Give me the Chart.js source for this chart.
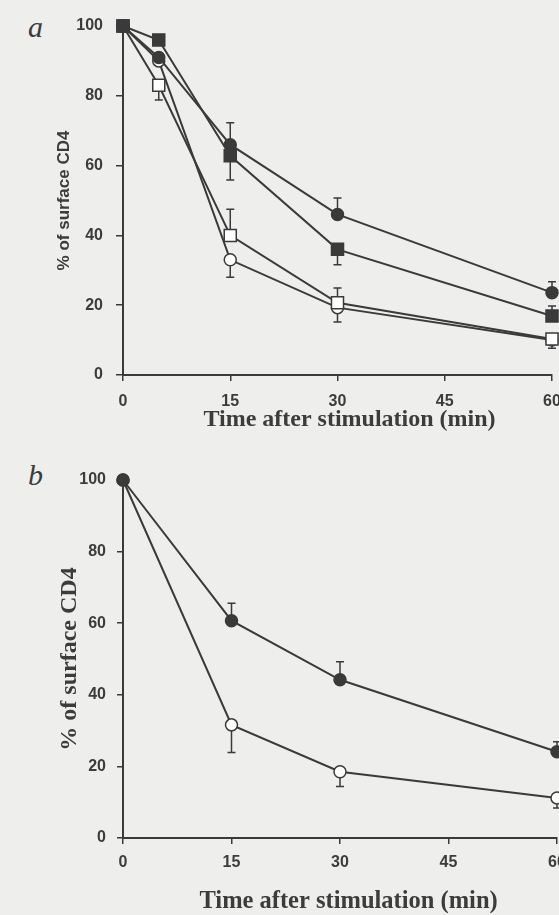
<!DOCTYPE html>
<html>
<head>
<meta charset="utf-8">
<script src="https://cdn.jsdelivr.net/npm/chart.js@4.4.1/dist/chart.umd.min.js"></script>
<style>
  html, body { margin: 0; padding: 0; background: #eeeeec; overflow: hidden; width: 559px; height: 915px; }
  canvas { position: absolute; left: 0; }
  #chartA { top: 0; }
  #chartB { top: 455px; }
  .panel { position: absolute; font-family: 'Liberation Serif', serif; font-style: italic; font-size: 30px; line-height: 1; color: #3c3c3c; }
</style>
</head>
<body>
<div class="panel" style="left:28px; top:12px">a</div>
<div class="panel" style="left:28px; top:460px">b</div>
<canvas id="chartA" width="600" height="450" style="width:600px;height:450px"></canvas>
<canvas id="chartB" width="600" height="470" style="width:600px;height:470px"></canvas>
<script>
// panel a: time points and % of surface CD4
const timesA = [0, 5, 15, 30, 60];
const filledSquareA = [100, 96, 62.8, 36, 16.9];
const filledCircleA = [100, 91, 66, 46, 23.6];
const openSquareA = [100, 83, 40, 20.7, 10.3];
const openCircleA = [100, 90, 33, 19.3, 10];
// error bar ends (one-sided whiskers)
const filledSquareAErr = [null, null, 55.9, 31.6, 19.8];
const filledCircleAErr = [null, null, 72.3, 50.7, 26.7];
const openSquareAErr = [null, 78.8, 47.5, 24.9, 7.7];
const openCircleAErr = [null, null, 28, 15.2, null];

// panel b
const timesB = [0, 15, 30, 60];
const filledCircleB = [100, 60.7, 44.2, 24.1];
const openCircleB = [100, 31.6, 18.5, 11.2];
const filledCircleBErr = [null, 65.6, 49.2, 26.9];
const openCircleBErr = [null, 23.9, 14.4, 8.4];

const xTicks = [0, 15, 30, 45, 60];
const yTicks = [0, 20, 40, 60, 80, 100];

const ink = '#3a3a3a';
const textInk = '#3c3c3c';

function toPoints(xs, ys) {
    return xs.map((x, i) => ({ x: x, y: ys[i] }));
}

function series(xs, ys, err, style, filled) {
    return {
        data: toPoints(xs, ys),
        errEnd: err,
        borderColor: ink,
        borderWidth: 2,
        pointStyle: style,
        pointRadius: style === 'rect' ? 8.5 : 6,
        pointBackgroundColor: filled ? ink : '#ffffff',
        pointBorderColor: ink,
        pointBorderWidth: 1.5,
        tension: 0,
        clip: false
    };
}

// one-sided error whiskers with caps
const errorBars = {
    id: 'errorBars',
    beforeDatasetsDraw(chart) {
        const ctx = chart.ctx;
        const yScale = chart.scales.y;
        chart.data.datasets.forEach((ds, i) => {
            if (!ds.errEnd) return;
            const meta = chart.getDatasetMeta(i);
            ctx.save();
            ctx.strokeStyle = ink;
            ctx.lineWidth = 1.5;
            meta.data.forEach((pt, j) => {
                const end = ds.errEnd[j];
                if (end == null) return;
                const yEnd = yScale.getPixelForValue(end);
                ctx.beginPath();
                ctx.moveTo(pt.x, pt.y);
                ctx.lineTo(pt.x, yEnd);
                ctx.moveTo(pt.x - 4, yEnd);
                ctx.lineTo(pt.x + 4, yEnd);
                ctx.stroke();
            });
            ctx.restore();
        });
    }
};

function makeChart(id, datasets, cfg) {
    const ctx = document.getElementById(id).getContext('2d');
    return new Chart(ctx, {
        type: 'line',
        data: { datasets: datasets },
        plugins: [errorBars],
        options: {
            responsive: false,
            animation: false,
            layout: { padding: cfg.padding },
            plugins: { legend: { display: false }, tooltip: { enabled: false } },
            scales: {
                x: {
                    type: 'linear',
                    min: 0,
                    max: 60,
                    afterBuildTicks(scale) { scale.ticks = xTicks.map(v => ({ value: v })); },
                    ticks: {
                        color: textInk,
                        padding: cfg.xTickPad,
                        font: { family: 'Liberation Sans', weight: 'bold', size: 16 }
                    },
                    grid: { drawOnChartArea: false, tickLength: 6, color: ink, lineWidth: 1.5 },
                    border: { color: ink, width: 2 },
                    title: {
                        display: true,
                        // leading spaces nudge the title right, as in the original
                        text: cfg.xTitleLead + 'Time after stimulation (min)',
                        color: textInk,
                        font: { family: 'Liberation Serif', weight: 'bold', size: cfg.xTitleSize },
                        padding: { top: 0, bottom: cfg.xTitlePad }
                    },
                    afterFit(scale) { scale.height = cfg.xHeight; }
                },
                y: {
                    min: 0,
                    max: 100,
                    afterBuildTicks(scale) { scale.ticks = yTicks.map(v => ({ value: v })); },
                    ticks: {
                        color: textInk,
                        padding: cfg.yTickPad,
                        font: { family: 'Liberation Sans', weight: 'bold', size: 16 }
                    },
                    grid: { drawOnChartArea: false, tickLength: cfg.yTickLen, color: ink, lineWidth: 1.5 },
                    border: { color: ink, width: 2 },
                    title: {
                        display: true,
                        text: '% of surface CD4',
                        color: textInk,
                        font: cfg.yTitleFont,
                        padding: { top: cfg.yTitlePad, bottom: 0 }
                    },
                    afterFit(scale) { scale.width = 123; }
                }
            }
        }
    });
}

// dataset 0 is drawn on top
makeChart('chartA', [
    series(timesA, filledSquareA, filledSquareAErr, 'rect', true),
    series(timesA, filledCircleA, filledCircleAErr, 'circle', true),
    series(timesA, openSquareA, openSquareAErr, 'rect', false),
    series(timesA, openCircleA, openCircleAErr, 'circle', false)
], {
    padding: { top: 26, left: 0, right: 48, bottom: 0 },
    xTickPad: 11,
    xTitleSize: 24,
    xTitleLead: '\u2002\u2002',
    xTitlePad: 16,
    xHeight: 75,
    yTickPad: 13,
    yTickLen: 7,
    yTitleFont: { family: 'Liberation Sans', weight: 'bold', size: 17 },
    yTitlePad: 54
});

makeChart('chartB', [
    series(timesB, filledCircleB, filledCircleBErr, 'circle', true),
    series(timesB, openCircleB, openCircleBErr, 'circle', false)
], {
    padding: { top: 25, left: 0, right: 43, bottom: 0 },
    xTickPad: 9,
    xTitleSize: 24.5,
    xTitleLead: '\u2002\u2009',
    xTitlePad: 9,
    xHeight: 87,
    yTickPad: 11,
    yTickLen: 6,
    yTitleFont: { family: 'Liberation Serif', weight: 'bold', size: 24 },
    yTitlePad: 55
});
</script>
</body>
</html>
